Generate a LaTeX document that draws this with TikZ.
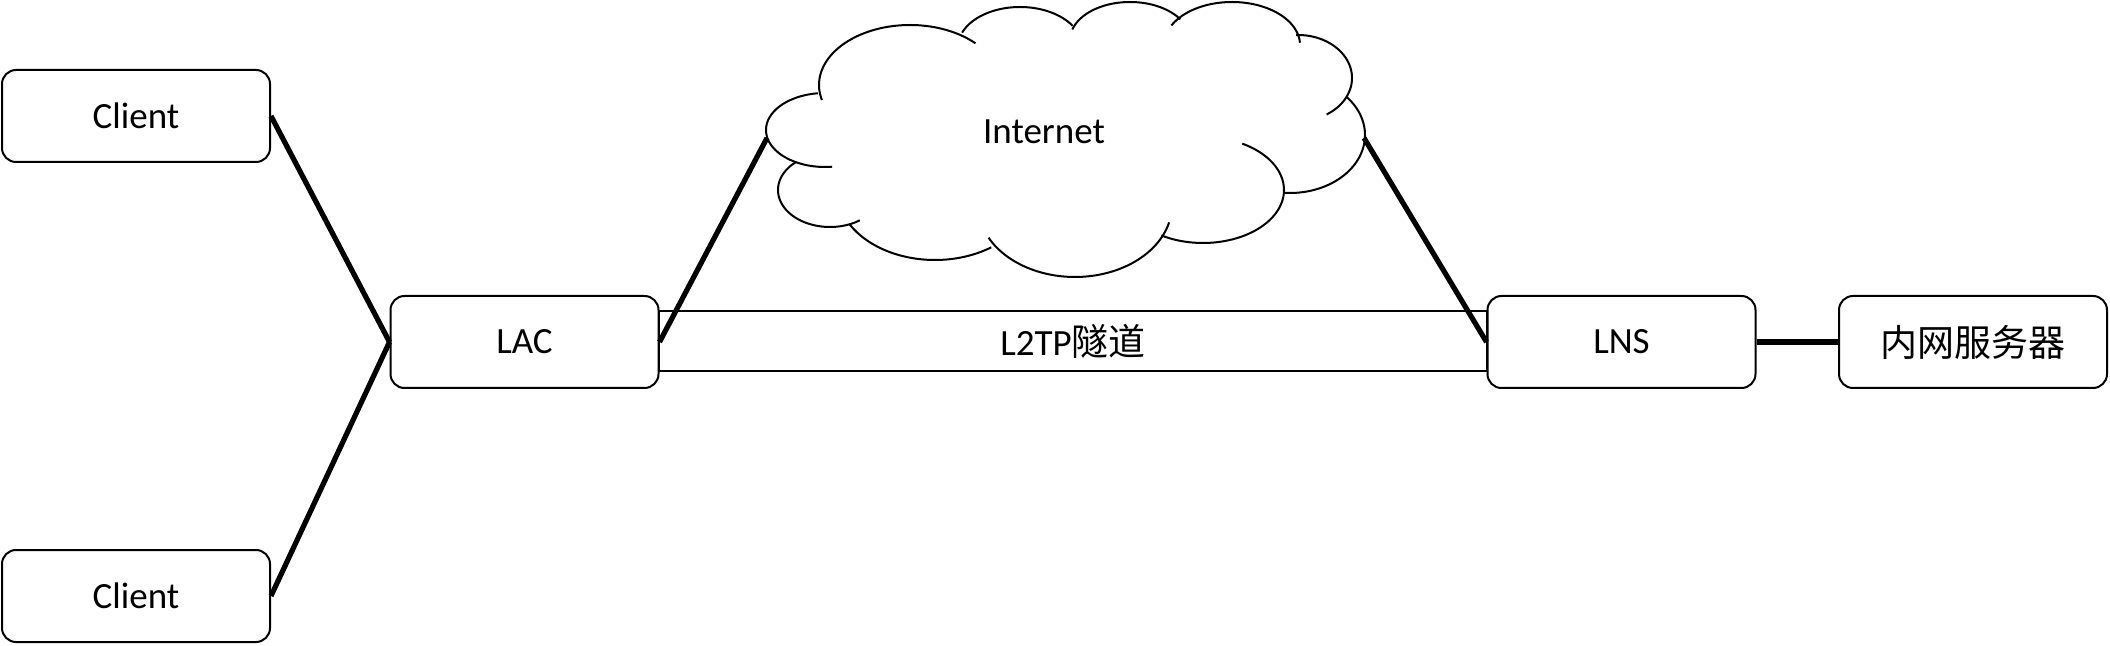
\documentclass[tikz,border=0pt]{standalone}
\usepackage{fontspec}
\setmainfont{Carlito}
\newfontfamily\cjk{Noto Sans CJK SC}
\usetikzlibrary{calc}
% elliptical lobe: center x, center y, rx, ry, start angle, end angle
\newcommand\cloudlobe[6]{%
  \draw[outline] plot[domain=#5:#6, samples=60, variable=\t]
    ({#1+#3*cos(\t)}, {#2-#4*sin(\t)});}
\begin{document}
\begin{tikzpicture}[x=0.5pt,y=-0.5pt,
  box/.style={draw, line width=1pt, rounded corners=7pt, minimum width=134pt,
    minimum height=46pt, inner sep=0pt, fill=white,
    font=\fontsize{18.5}{22}\selectfont},
  wire/.style={line width=2.6pt},
  fatwire/.style={line width=3.2pt},
  outline/.style={line width=1pt}
]
\useasboundingbox (0,0) rectangle (2110,646);

% tunnel
\coordinate (t1) at (659,311);
\coordinate (t2) at (1487,371);
\draw[outline] (t1) rectangle (t2);
\node[font=\fontsize{18.5}{22}\selectfont] (tun) at (1073,341) {L2TP{\cjk 隧道}};

% boxes
\node[box] (c1) at (136,116) {Client};
\node[box] (c2) at (136,596) {Client};
\node[box] (lac) at (524.5,342) {LAC};
\node[box] (lns) at (1621.5,342) {LNS};
\node[box] (srv) at (1973,342) {\cjk 内网服务器};

% cloud
\cloudlobe{910}{85}{91}{60}{44}{194.5}
\cloudlobe{1020}{47}{62}{40}{32}{159}
\cloudlobe{1130}{40}{60}{38}{33}{164}
\cloudlobe{1232}{45}{68}{43}{3}{153}
\cloudlobe{1298}{78}{54}{43}{-58}{92}
\cloudlobe{1290}{135}{75}{58}{-94}{41}
\cloudlobe{1203}{190}{81}{53}{-121}{61}
\cloudlobe{1075}{205}{97}{72}{-153}{-14}
\cloudlobe{935}{190}{98}{70}{209}{305}
\cloudlobe{830}{190}{52}{37}{131}{305}
\cloudlobe{825}{130}{59}{37}{97}{277}
\node[font=\fontsize{18.5}{22}\selectfont] (inet) at (1044,132) {Internet};
\coordinate (cl) at (767,138);
\coordinate (cr) at (1364,138);

% connectors
\draw[wire] (c1.east) -- (lac.west);
\draw[wire] (c2.east) -- (lac.west);
\draw[wire] (lac.east) -- (cl);
\draw[wire] (cr) -- (lns.west);
\draw[fatwire] (lns.east) -- (srv.west);
\end{tikzpicture}
\end{document}
